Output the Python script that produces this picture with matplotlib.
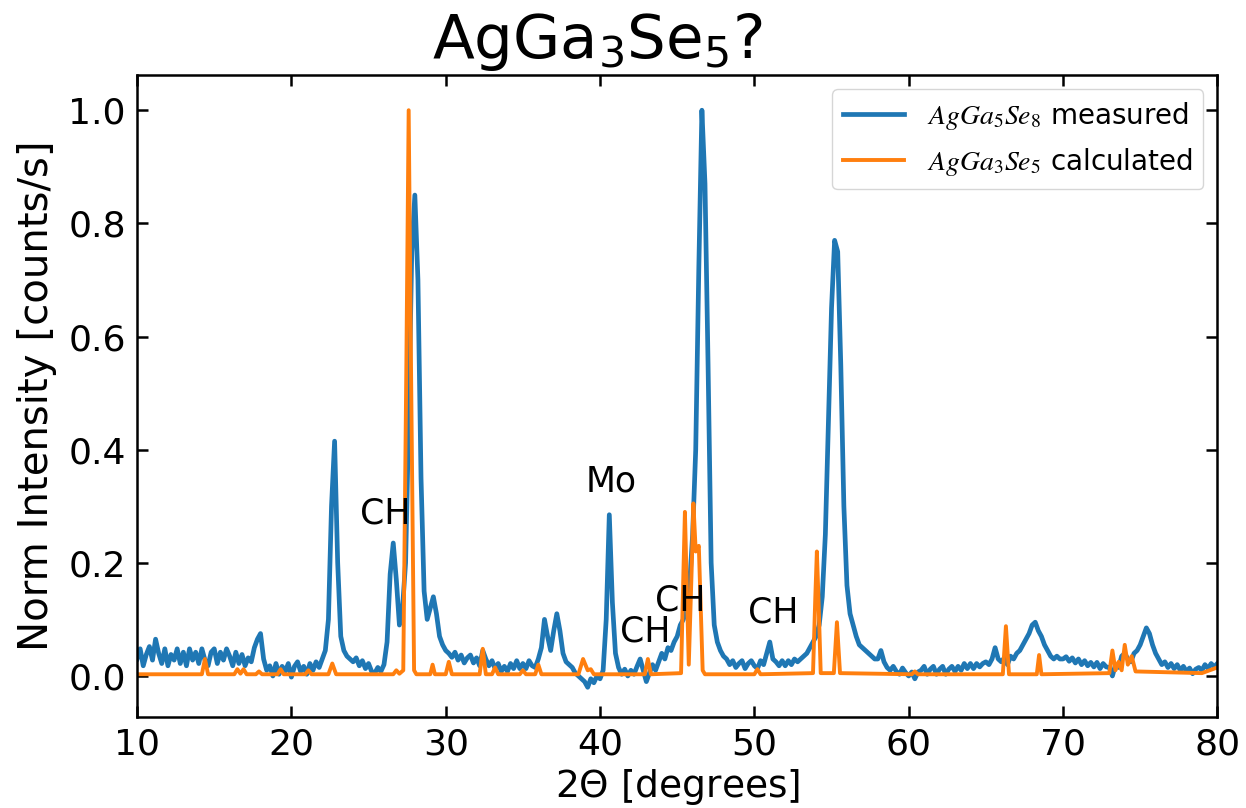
import numpy as np
import matplotlib
matplotlib.use("Agg")
import matplotlib.pyplot as plt

# measured pattern, sampled every 0.2 deg from 10 to 80 (one row per degree)
two_theta_start = 10.0
two_theta_step = 0.2
measured = [
    0.030, 0.048, 0.018, 0.038, 0.052,   # 10
    0.028, 0.065, 0.040, 0.022, 0.048,   # 11
    0.018, 0.038, 0.028, 0.048, 0.022,   # 12
    0.042, 0.018, 0.048, 0.028, 0.042,   # 13
    0.022, 0.048, 0.028, 0.018, 0.042,   # 14
    0.048, 0.022, 0.042, 0.028, 0.048,   # 15
    0.035, 0.018, 0.042, 0.022, 0.038,   # 16
    0.018, 0.032, 0.025, 0.050, 0.065,   # 17
    0.075, 0.030, 0.010, 0.018, 0.000,   # 18
    0.022, 0.003, 0.017, 0.008, 0.022,   # 19
    -0.002, 0.017, 0.025, 0.008, 0.017,  # 20
    0.003, 0.022, 0.010, 0.025, 0.015,   # 21
    0.030, 0.045, 0.100, 0.300, 0.415,   # 22
    0.200, 0.070, 0.045, 0.035, 0.030,   # 23
    0.025, 0.032, 0.018, 0.027, 0.013,   # 24
    0.022, 0.008, 0.005, 0.015, 0.008,   # 25
    0.020, 0.060, 0.180, 0.235, 0.170,   # 26
    0.090, 0.120, 0.200, 0.450, 0.750,   # 27
    0.850, 0.700, 0.350, 0.150, 0.100,   # 28
    0.120, 0.140, 0.110, 0.070, 0.055,   # 29
    0.045, 0.040, 0.033, 0.042, 0.028,   # 30
    0.037, 0.023, 0.032, 0.037, 0.023,   # 31
    0.032, 0.018, 0.045, 0.030, 0.018,   # 32
    0.027, 0.013, 0.022, 0.008, 0.017,   # 33
    0.008, 0.022, 0.013, 0.027, 0.013,   # 34
    0.022, 0.013, 0.027, 0.018, 0.015,   # 35
    0.030, 0.050, 0.100, 0.070, 0.045,   # 36
    0.080, 0.110, 0.080, 0.040, 0.025,   # 37
    0.020, 0.015, 0.005, 0.000, -0.005,  # 38
    -0.010, -0.020, -0.005, -0.012, 0.000,  # 39
    -0.005, 0.010, 0.100, 0.285, 0.130,  # 40
    0.040, 0.015, 0.003, 0.012, 0.000,   # 41
    0.010, 0.003, 0.017, 0.030, 0.010,   # 42
    -0.010, 0.005, 0.020, 0.010, 0.025,  # 43
    0.040, 0.030, 0.050, 0.045, 0.060,   # 44
    0.070, 0.090, 0.100, 0.120, 0.160,   # 45
    0.250, 0.400, 0.720, 1.000, 0.870,   # 46
    0.550, 0.200, 0.090, 0.060, 0.045,   # 47
    0.035, 0.030, 0.020, 0.027, 0.015,   # 48
    0.022, 0.027, 0.013, 0.022, 0.027,   # 49
    0.018, 0.013, 0.027, 0.020, 0.040,   # 50
    0.060, 0.030, 0.025, 0.018, 0.027,   # 51
    0.018, 0.027, 0.020, 0.030, 0.025,   # 52
    0.030, 0.035, 0.040, 0.050, 0.060,   # 53
    0.070, 0.090, 0.140, 0.250, 0.450,   # 54
    0.650, 0.770, 0.750, 0.550, 0.300,   # 55
    0.160, 0.110, 0.090, 0.070, 0.055,   # 56
    0.050, 0.045, 0.040, 0.035, 0.030,   # 57
    0.030, 0.045, 0.025, 0.015, 0.010,   # 58
    0.017, 0.008, 0.003, 0.014, 0.006,   # 59
    0.000, 0.007, -0.005, 0.007, 0.010,  # 60
    0.017, 0.003, 0.012, 0.017, 0.003,   # 61
    0.012, 0.017, 0.003, 0.012, 0.017,   # 62
    0.008, 0.017, 0.010, 0.022, 0.013,   # 63
    0.022, 0.013, 0.022, 0.016, 0.022,   # 64
    0.025, 0.020, 0.030, 0.050, 0.030,   # 65
    0.025, 0.032, 0.020, 0.035, 0.030,   # 66
    0.040, 0.045, 0.055, 0.065, 0.075,   # 67
    0.090, 0.095, 0.080, 0.070, 0.055,   # 68
    0.045, 0.035, 0.030, 0.035, 0.030,   # 69
    0.030, 0.034, 0.026, 0.032, 0.023,   # 70
    0.030, 0.020, 0.027, 0.018, 0.024,   # 71
    0.016, 0.024, 0.013, 0.022, 0.016,   # 72
    0.015, 0.000, 0.020, 0.015, 0.035,   # 73
    0.040, 0.030, 0.025, 0.040, 0.045,   # 74
    0.055, 0.070, 0.085, 0.075, 0.055,   # 75
    0.040, 0.030, 0.020, 0.025, 0.015,   # 76
    0.022, 0.013, 0.020, 0.010, 0.017,   # 77
    0.008, 0.014, 0.004, 0.012, 0.015,   # 78
    0.010, 0.020, 0.013, 0.022, 0.016,   # 79
    0.022,                               # 80
]

# calculated pattern, vertices
calc_x = [10.0, 14.2, 14.4, 14.6, 16.3, 16.5, 16.7, 16.9, 17.1, 17.7, 17.9, 18.1,
          19.1, 19.3, 19.5, 20.9, 21.1, 21.3, 22.4, 22.65, 22.9, 26.6, 26.8, 27.0,
          27.25, 27.45, 27.6, 27.75, 27.95, 28.1, 29.0, 29.15, 29.3, 30.0, 30.2, 30.4,
          32.2, 32.4, 32.6, 33.0, 33.2, 33.4, 34.8, 35.0, 35.2, 35.8, 36.0, 36.2,
          38.6, 38.9, 39.2, 39.4, 39.6, 42.9, 43.1, 43.3, 45.25, 45.4, 45.5, 45.6,
          45.75, 45.95, 46.05, 46.2, 46.4, 46.65, 46.8, 50.0, 50.2, 50.4, 53.8, 53.95,
          54.05, 54.15, 54.3, 55.15, 55.35, 55.55, 60.2, 60.4, 60.6, 66.1, 66.3, 66.5,
          68.3, 68.45, 68.6, 73.0, 73.2, 73.4, 73.6, 73.8, 74.0, 74.2, 74.45, 74.7,
          79.0, 80.0]
calc_y = [0.003, 0.003, 0.030, 0.003, 0.003, 0.012, 0.004, 0.012, 0.003, 0.003, 0.008, 0.003,
          0.003, 0.012, 0.003, 0.003, 0.010, 0.003, 0.003, 0.022, 0.003, 0.003, 0.010, 0.004,
          0.010, 0.550, 1.000, 0.550, 0.010, 0.003, 0.003, 0.020, 0.003, 0.003, 0.025, 0.003,
          0.003, 0.048, 0.003, 0.003, 0.015, 0.003, 0.003, 0.010, 0.003, 0.003, 0.020, 0.003,
          0.003, 0.030, 0.010, 0.012, 0.003, 0.003, 0.030, 0.003, 0.005, 0.180, 0.290, 0.180,
          0.020, 0.200, 0.305, 0.220, 0.230, 0.010, 0.003, 0.003, 0.012, 0.003, 0.005, 0.140,
          0.220, 0.140, 0.005, 0.005, 0.095, 0.005, 0.003, 0.008, 0.003, 0.003, 0.088, 0.003,
          0.003, 0.037, 0.003, 0.005, 0.045, 0.010, 0.025, 0.010, 0.055, 0.020, 0.035, 0.008,
          0.005, 0.015]

peak_labels = ["CH", "Mo", "CH", "CH", "CH"]
peak_label_x = [26.1, 40.7, 42.9, 45.2, 51.2]
peak_label_y = [0.288, 0.343, 0.078, 0.134, 0.113]

meas_x = np.round(two_theta_start + two_theta_step * np.arange(len(measured)), 2)

plt.rcParams['mathtext.fontset'] = 'stix'
plt.rcParams['font.family'] = 'DejaVu Sans'
plt.rcParams['xtick.direction'] = 'in'
plt.rcParams['ytick.direction'] = 'in'
plt.rcParams['xtick.top'] = True
plt.rcParams['ytick.right'] = True

fig = plt.figure(figsize=(12.46, 8.08), dpi=100)
ax = fig.add_axes([0.110, 0.113, 0.867, 0.794])

ax.plot(meas_x, measured, color='#1f77b4', lw=3.4, label=r'$AgGa_5Se_8$ measured')
ax.plot(calc_x, calc_y, color='#ff7f0e', lw=2.8, label=r'$AgGa_3Se_5$ calculated')

for txt, lx, ly in zip(peak_labels, peak_label_x, peak_label_y):
    ax.text(lx, ly, txt, fontsize=25, ha='center', va='center')

ax.set_xlim(10, 80)
ax.set_ylim(-0.072, 1.062)
ax.set_xticks(np.arange(10, 81, 10))
ax.set_yticks([0.0, 0.2, 0.4, 0.6, 0.8, 1.0])
ax.tick_params(axis='both', which='major', labelsize=26, length=8, width=1.8, pad=8)
for s in ax.spines.values():
    s.set_linewidth(1.8)

ax.set_xlabel(r'2$\Theta$ [degrees]', fontsize=27, math_fontfamily='dejavusans', labelpad=4)
ax.set_ylabel('Norm Intensity [counts/s]', fontsize=29, labelpad=8)
ax.set_title(r'AgGa$_3$Se$_5$?', fontsize=44, math_fontfamily='dejavusans', x=0.426, pad=12)

leg = ax.legend(loc='upper right', fontsize=20, framealpha=0.8, handlelength=2.2,
                borderaxespad=0.5)

fig.savefig('out.png', dpi=100)
